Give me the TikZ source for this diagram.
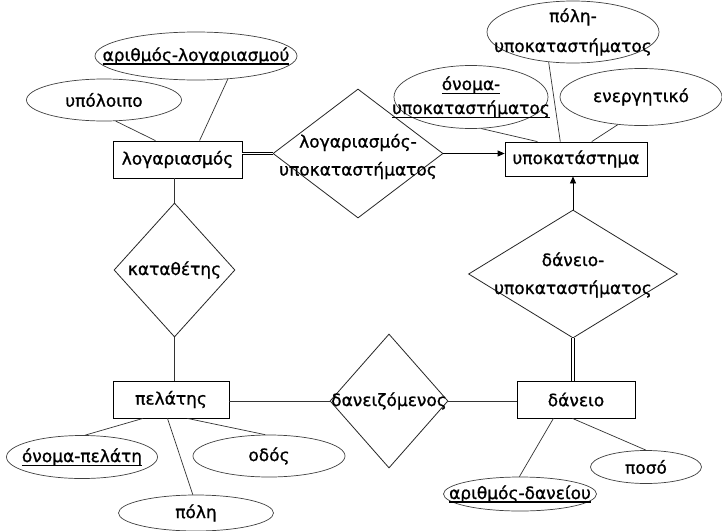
\documentclass[tikz,border=0pt]{standalone}
\usepackage{fontspec}
\setmainfont{DejaVu Sans}[FakeBold=1]
\usetikzlibrary{shapes.geometric,arrows.meta,calc}
% underline drawn as a rule just below the baseline
\newcommand\keyul[2][0.9pt]{\setbox0\hbox{#2}\leavevmode\rlap{\rule[-3.5pt]{\wd0}{#1}}\box0}
\begin{document}
\begin{tikzpicture}[x=1pt,y=-1pt,
  every node/.style={font=\fontsize{17}{28}\selectfont},
  entity/.style={draw=black,fill=white,line width=0.8pt,inner sep=0pt},
  rel/.style={diamond,draw=black!85,fill=white,line width=0.8pt,inner sep=0pt},
  attr/.style={ellipse,draw=black!75,fill=white,line width=0.7pt,inner sep=0pt},
  txt/.style={align=center,inner sep=0pt},
  link/.style={draw=black!80,line width=0.7pt},
  dbl/.style={draw=black,double=white,double distance=1.8pt,line width=0.7pt},
  arr/.style={draw=black,line width=0.8pt,-{Triangle[length=7pt,width=6pt]}}
]
\useasboundingbox[fill=white] (0,0) rectangle (722,530);

% entity sets
\node[entity,minimum width=129pt,minimum height=37pt] (log) at (177.5,159.5) {λογαριασμός};
\node[entity,minimum width=142pt,minimum height=34pt] (yp)  at (576,159) {υποκατάστημα};
\node[entity,minimum width=116pt,minimum height=37pt] (pel) at (171,399.5) {πελάτης};
\node[entity,minimum width=118pt,minimum height=37pt] (dan) at (576,399.5) {δάνειο};

% relationship sets
\node[rel,minimum width=170pt,minimum height=129pt,
      label={[txt,yshift=-3pt]center:{λογαριασμός-\\υποκαταστήματος}}] (lu) at (358,153.5) {};
\node[rel,minimum width=121pt,minimum height=134pt,
      label={[txt]center:{καταθέτης}}] (kat) at (174.5,270) {};
\node[rel,minimum width=118pt,minimum height=134pt,
      label={[txt]center:{δανειζόμενος}}] (dz) at (389,401) {};
\node[rel,minimum width=209pt,minimum height=128pt,
      label={[txt,yshift=-1pt]center:{δάνειο-\\υποκαταστήματος}}] (du) at (573,274) {};

% attributes
\node[attr,minimum width=202pt,minimum height=48pt,
      label={[txt]center:{\keyul[1.6pt]{αριθμός-λογαριασμού}}}] (alog) at (196,56) {};
\node[attr,minimum width=155pt,minimum height=42pt,
      label={[txt]center:{υπόλοιπο}}] (ypol) at (104,100) {};
\node[attr,minimum width=172pt,minimum height=62pt,
      label={[txt,font=\fontsize{17}{30}\selectfont]center:{πόλη-\\υποκαταστήματος}}] (polyp) at (573,32) {};
\node[attr,minimum width=154pt,minimum height=63pt,
      label={[txt,font=\fontsize{17}{24}\selectfont]center:{\keyul{όνομα-}\\\keyul{υποκαταστήματος}}}] (onyp) at (471,97) {};
\node[attr,minimum width=162pt,minimum height=57pt,
      label={[txt]center:{ενεργητικό}}] (energ) at (641,97) {};
\node[attr,minimum width=151pt,minimum height=43pt,
      label={[txt]center:{\keyul{όνομα-πελάτη}}}] (onpel) at (82,457) {};
\node[attr,minimum width=152pt,minimum height=42pt,
      label={[txt]center:{οδός}}] (odos) at (269,456) {};
\node[attr,minimum width=155pt,minimum height=36pt,
      label={[txt]center:{πόλη}}] (poli) at (196,513) {};
\node[attr,minimum width=111pt,minimum height=33pt,
      label={[txt]center:{ποσό}}] (poso) at (646,467) {};
\node[attr,minimum width=153pt,minimum height=34pt,
      label={[txt]center:{\keyul[1.6pt]{αριθμός-δανείου}}}] (adan) at (520,494) {};

% attribute links
\draw[link] (ypol.-61) -- ($(log.north west)!0.33!(log.north east)$);
\draw[link] (alog.-36) -- ($(log.north west)!0.67!(log.north east)$);
\draw[link] (onyp.-72) -- ($(yp.north west)!0.23!(yp.north east)$);
\draw[link] (polyp.-129) -- ($(yp.north west)!0.39!(yp.north east)$);
\draw[link] (energ.-130) -- ($(yp.north west)!0.61!(yp.north east)$);
\draw[link] (onpel.82) -- ($(pel.south west)!0.26!(pel.south east)$);
\draw[link] (poli.100) -- ($(pel.south west)!0.47!(pel.south east)$);
\draw[link] (odos.100) -- ($(pel.south west)!0.64!(pel.south east)$);
\draw[link] (adan.92) -- ($(dan.south west)!0.31!(dan.south east)$);
\draw[link] (poso.90) -- ($(dan.south west)!0.47!(dan.south east)$);

% relationship links
\draw[link] (kat.north) -- (kat.north |- log.south);
\draw[link] (kat.south) -- (kat.south |- pel.north);
\draw[link] (dz.west) -- (dz.west -| pel.east);
\draw[link] (dz.east) -- (dz.east -| dan.west);
\draw[dbl] (lu.west) -- (lu.west -| log.east);
\draw[dbl] (du.south) -- (du.south |- dan.north);
\draw[arr] (lu.east) -- (lu.east -| yp.west);
\draw[arr] (du.north) -- (du.north |- yp.south);
\end{tikzpicture}
\end{document}
